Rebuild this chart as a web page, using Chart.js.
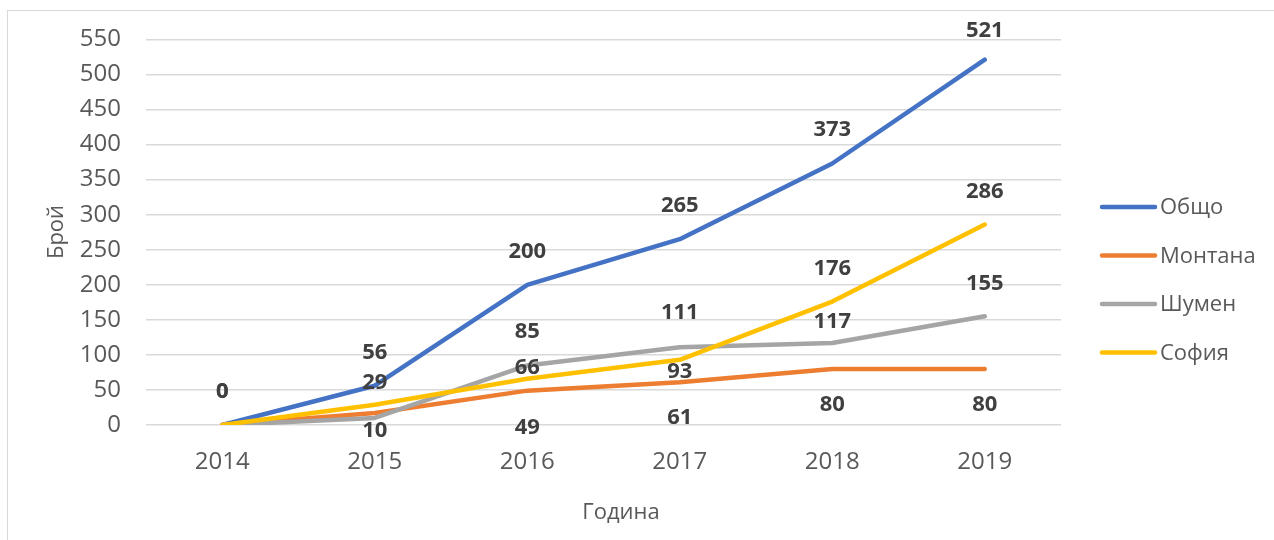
<!DOCTYPE html>
<html>
<head>
<meta charset="utf-8">
<script src="https://cdn.jsdelivr.net/npm/chart.js@4"></script>
<style>
  html, body { margin: 0; padding: 0; background: #fff; }
  #wrap { position: relative; width: 1274px; height: 540px; overflow: hidden; }
  #frame { position: absolute; left: 7px; top: 10px; width: 1400px; height: 700px;
           border-left: 1.5px solid #d9d9d9; border-top: 1.5px solid #d9d9d9; }
  canvas { position: absolute; left: 0; top: 0; }
</style>
</head>
<body>
<div id="wrap">
  <div id="frame"></div>
  <canvas id="lineChart" width="1274" height="540"></canvas>
</div>
<script>
const years = ['2014', '2015', '2016', '2017', '2018', '2019'];
const total = [0, 56, 200, 265, 373, 521];
const montana = [0, 17, 49, 61, 80, 80];
const shumen = [0, 10, 85, 111, 117, 155];
const sofia = [0, 29, 66, 93, 176, 286];
const seriesNames = ['Общо', 'Монтана', 'Шумен', 'София'];
const yTicks = [0, 50, 100, 150, 200, 250, 300, 350, 400, 450, 500, 550];

const FONT = '"Open Sans", "Noto Sans", sans-serif';
const colors = ['#4472c4', '#ed7d31', '#a5a5a5', '#ffc000'];

// label offsets in px (null = no label), like the hand-moved labels in the original
const valueLabels = {
  id: 'valueLabels',
  afterDatasetsDraw(chart) {
    const ctx = chart.ctx;
    ctx.save();
    ctx.font = 'bold 22px ' + FONT;
    ctx.fillStyle = '#404040';
    ctx.textAlign = 'center';
    ctx.textBaseline = 'middle';
    chart.data.datasets.forEach((ds, i) => {
      const meta = chart.getDatasetMeta(i);
      meta.data.forEach((pt, j) => {
        const off = ds.labelOffsets[j];
        if (off === null) return;
        ctx.fillText(String(ds.data[j]), pt.x, pt.y + off);
      });
    });
    ctx.restore();
  }
};

const sideLegend = {
  id: 'sideLegend',
  afterDraw(chart) {
    const ctx = chart.ctx;
    ctx.save();
    ctx.font = '22px ' + FONT;
    ctx.textBaseline = 'middle';
    ctx.textAlign = 'left';
    ctx.lineCap = 'round';
    ctx.lineWidth = 4.5;
    seriesNames.forEach((name, i) => {
      const y = 207 + i * 48.5;
      ctx.strokeStyle = colors[i];
      ctx.beginPath();
      ctx.moveTo(1102, y);
      ctx.lineTo(1155, y);
      ctx.stroke();
      ctx.fillStyle = '#595959';
      ctx.fillText(name, 1160, y + 1);
    });

    // axis titles
    ctx.textAlign = 'center';
    ctx.fillText('Година', 621, 513);
    ctx.translate(57, 232);
    ctx.rotate(-Math.PI / 2);
    ctx.fillText('Брой', 0, 0);
    ctx.restore();
  }
};

function makeSet(idx, data, offsets, order) {
  return {
    label: seriesNames[idx],
    data: data,
    borderColor: colors[idx],
    backgroundColor: colors[idx],
    borderWidth: 4.5,
    borderCapStyle: 'round',
    borderJoinStyle: 'round',
    pointRadius: 0,
    pointHoverRadius: 0,
    tension: 0,
    order: order,
    labelOffsets: offsets
  };
}

new Chart(document.getElementById('lineChart'), {
  type: 'line',
  data: {
    labels: years,
    datasets: [
      makeSet(0, total, [-33, -33, -33, -33, -34, -29], 3),
      makeSet(1, montana, [null, null, 37, 36, 36, 36], 2),
      makeSet(2, shumen, [-33, 13, -34, -34, -21, -33], 1),
      makeSet(3, sofia, [null, -22, -11, 12, -33, -33], 0)
    ]
  },
  options: {
    responsive: false,
    animation: false,
    layout: { padding: { left: 0, top: 39, right: 213, bottom: 0 } },
    plugins: {
      legend: { display: false },
      tooltip: { enabled: false }
    },
    scales: {
      x: {
        offset: true,
        grid: { display: false },
        border: { display: false },
        ticks: {
          color: '#595959',
          font: { family: FONT, size: 24 },
          padding: 15
        },
        afterFit(scale) { scale.height = 115; }
      },
      y: {
        min: 0,
        max: 550,
        afterBuildTicks(scale) { scale.ticks = yTicks.map(v => ({ value: v })); },
        grid: { color: '#d9d9d9', lineWidth: 1.5, drawTicks: false },
        border: { display: false },
        ticks: {
          color: '#595959',
          font: { family: FONT, size: 24 },
          padding: 25
        },
        afterFit(scale) { scale.width = 146; }
      }
    }
  },
  plugins: [valueLabels, sideLegend]
});
</script>
</body>
</html>
